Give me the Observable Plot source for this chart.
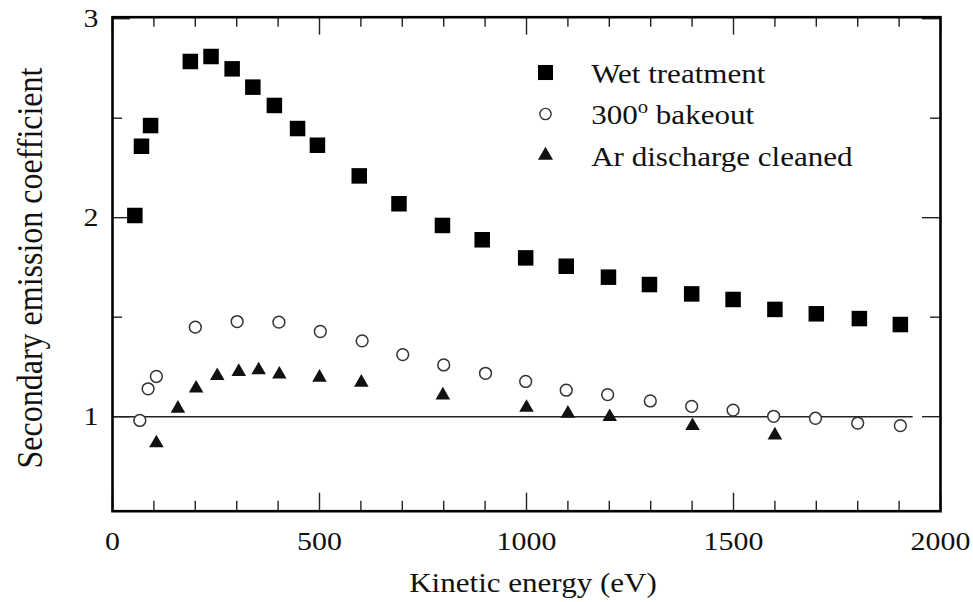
<!DOCTYPE html>
<html><head><meta charset="utf-8">
<script src="https://cdn.jsdelivr.net/npm/d3@7"></script>
<script src="https://cdn.jsdelivr.net/npm/@observablehq/plot@0.6"></script>
<style>
html,body{margin:0;padding:0;background:#fff;}
#chart svg{display:block;}
</style></head><body><div id="chart"></div>
<script>
// ---- data ----
const wetX = [54, 70, 92, 188, 238, 289, 339, 391, 447, 495, 596, 692, 797, 893, 998, 1096, 1198, 1297, 1399, 1499, 1600, 1700, 1804, 1903];
const wetY = [2.011, 2.359, 2.463, 2.785, 2.810, 2.748, 2.656, 2.564, 2.448, 2.364, 2.210, 2.070, 1.961, 1.889, 1.798, 1.756, 1.701, 1.664, 1.617, 1.589, 1.539, 1.517, 1.493, 1.463];
const bakeX = [66, 86, 106, 200, 301, 402, 502, 603, 701, 800, 901, 998, 1096, 1196, 1299, 1399, 1499, 1597, 1698, 1800, 1903];
const bakeY = [0.981, 1.140, 1.202, 1.450, 1.478, 1.475, 1.428, 1.381, 1.312, 1.260, 1.218, 1.177, 1.133, 1.111, 1.079, 1.052, 1.033, 1.002, 0.992, 0.968, 0.955];
const arX = [106, 158, 202, 253, 305, 353, 403, 500, 601, 798, 1000, 1100, 1201, 1401, 1600];
const arY = [0.867, 1.041, 1.142, 1.205, 1.226, 1.234, 1.213, 1.197, 1.172, 1.108, 1.046, 1.016, 0.999, 0.954, 0.907];
const seriesNames = ["Wet treatment", "300o bakeout", "Ar discharge cleaned"];
const xTickLabels = [0, 500, 1000, 1500, 2000];
const xMinorTicks = [100, 200, 300, 400, 600, 700, 800, 900, 1100, 1200, 1300, 1400, 1600, 1700, 1800, 1900];
const yTickLabels = [1, 2, 3];
const yMinorTicks = [1.5, 2.5];
const xLabel = "Kinetic energy (eV)";
const yLabel = "Secondary emission coefficient";
const refLevel = [1];
const refLineEnd = 1934;

// ---- layout ----
const W = 973, H = 602;
const mL = 112, mR = 33, mT = 16.7, mB = 91.3;
const innerW = W - mL - mR, innerH = H - mT - mB;
const ink = "#111";
const serif = "'Liberation Serif', 'Times New Roman', serif";
const majorLen = 18, minorLen = 10;
const tickStyle = {stroke: "#222", strokeWidth: 1.4};

const wet = wetX.map((x, i) => ({x, y: wetY[i]}));
const bake = bakeX.map((x, i) => ({x, y: bakeY[i]}));
const ar = arX.map((x, i) => ({x, y: arY[i]}));

const legendSymbols = [
  {symbol: "square", r: 8.5, fill: "#000", stroke: "none"},
  {symbol: "circle", r: 5.6, fill: "#fff", stroke: "#333", strokeWidth: 1.4},
  {symbol: "triangle", r: 5.6, fill: "#111", stroke: "none"}
];
const legendMarks = seriesNames.flatMap((name, i) => [
  Plot.dot([name], {x: null, y: null, frameAnchor: "top-left", dx: 433, dy: 55.3 + 41.5 * i, ...legendSymbols[i]}),
  Plot.text([name], {text: d => d, frameAnchor: "top-left", textAnchor: "start", lineAnchor: "middle", dx: 478.7, dy: 56.8 + 41.5 * i, fontSize: 27, fill: ink})
]);

const chart = Plot.plot({
  width: W, height: H,
  marginLeft: mL, marginRight: mR, marginTop: mT, marginBottom: mB,
  style: {fontFamily: serif, background: "#fff", color: ink},
  x: {domain: [0, 2000], axis: null},
  y: {domain: [0.525, 3.0075], axis: null},
  marks: [
    Plot.ruleY(refLevel, {y: d => d, x1: 0, x2: refLineEnd, stroke: "#222", strokeWidth: 1.4}),
    Plot.tickX(xTickLabels, {x: d => d, insetTop: innerH - majorLen, ...tickStyle}),
    Plot.tickX(xTickLabels, {x: d => d, insetBottom: innerH - majorLen, ...tickStyle}),
    Plot.tickX(xMinorTicks, {x: d => d, insetTop: innerH - minorLen, ...tickStyle}),
    Plot.tickX(xMinorTicks, {x: d => d, insetBottom: innerH - minorLen, ...tickStyle}),
    Plot.tickY(yTickLabels, {y: d => d, insetRight: innerW - majorLen, ...tickStyle}),
    Plot.tickY(yTickLabels, {y: d => d, insetLeft: innerW - majorLen, ...tickStyle}),
    Plot.tickY(yMinorTicks, {y: d => d, insetRight: innerW - minorLen, ...tickStyle}),
    Plot.tickY(yMinorTicks, {y: d => d, insetLeft: innerW - minorLen, ...tickStyle}),
    Plot.frame({stroke: "#000", strokeWidth: 2.6}),
    Plot.dot(ar, {x: "x", y: "y", symbol: "triangle", r: 5.4, fill: "#111", stroke: "none"}),
    Plot.dot(bake, {x: "x", y: "y", symbol: "circle", r: 5.9, fill: "#fff", stroke: "#333", strokeWidth: 1.5}),
    Plot.dot(wet, {x: "x", y: "y", symbol: "square", r: 8.75, fill: "#000", stroke: "none"}),
    Plot.text(xTickLabels, {x: d => d, text: d => String(d), frameAnchor: "bottom", textAnchor: "middle", lineAnchor: "middle", dy: 30.3, fontSize: 26, fill: ink}),
    Plot.text(yTickLabels, {y: d => d, text: d => String(d), frameAnchor: "left", textAnchor: "end", lineAnchor: "middle", dx: -14, fontSize: 26, fill: ink}),
    Plot.text([xLabel], {text: d => d, frameAnchor: "bottom", textAnchor: "middle", lineAnchor: "middle", dx: 6.5, dy: 72.3, fontSize: 27, fill: ink}),
    Plot.text([yLabel], {text: d => d, frameAnchor: "left", textAnchor: "middle", lineAnchor: "middle", rotate: -90, dx: -82, dy: 3.8, fontSize: 32, fill: ink}),
    ...legendMarks
  ]
});

// the reference lettering is slightly wide: stretch glyphs horizontally
const sx = 1.15;
for (const t of chart.querySelectorAll("text")) {
  let tr = t.getAttribute("transform");
  if (!tr) {
    const x = t.getAttribute("x") || 0, y = t.getAttribute("y") || 0;
    t.removeAttribute("x"); t.removeAttribute("y");
    tr = `translate(${x},${y})`;
  }
  t.setAttribute("transform", tr + (tr.includes("rotate") ? ` scale(1,${sx})` : ` scale(${sx},1)`));
  // superscript "o" in "300o bakeout"
  if (t.textContent === seriesNames[1]) {
    const ns = "http://www.w3.org/2000/svg";
    t.textContent = "";
    const parts = [["300", null, null], ["o", -11, 18], [" bakeout", 11, null]];
    for (const [s, dy, fs] of parts) {
      const sp = document.createElementNS(ns, "tspan");
      sp.textContent = s;
      if (dy != null) sp.setAttribute("dy", dy);
      if (fs != null) sp.setAttribute("font-size", fs);
      t.appendChild(sp);
    }
  }
}
document.getElementById("chart").appendChild(chart);
</script></body></html>
